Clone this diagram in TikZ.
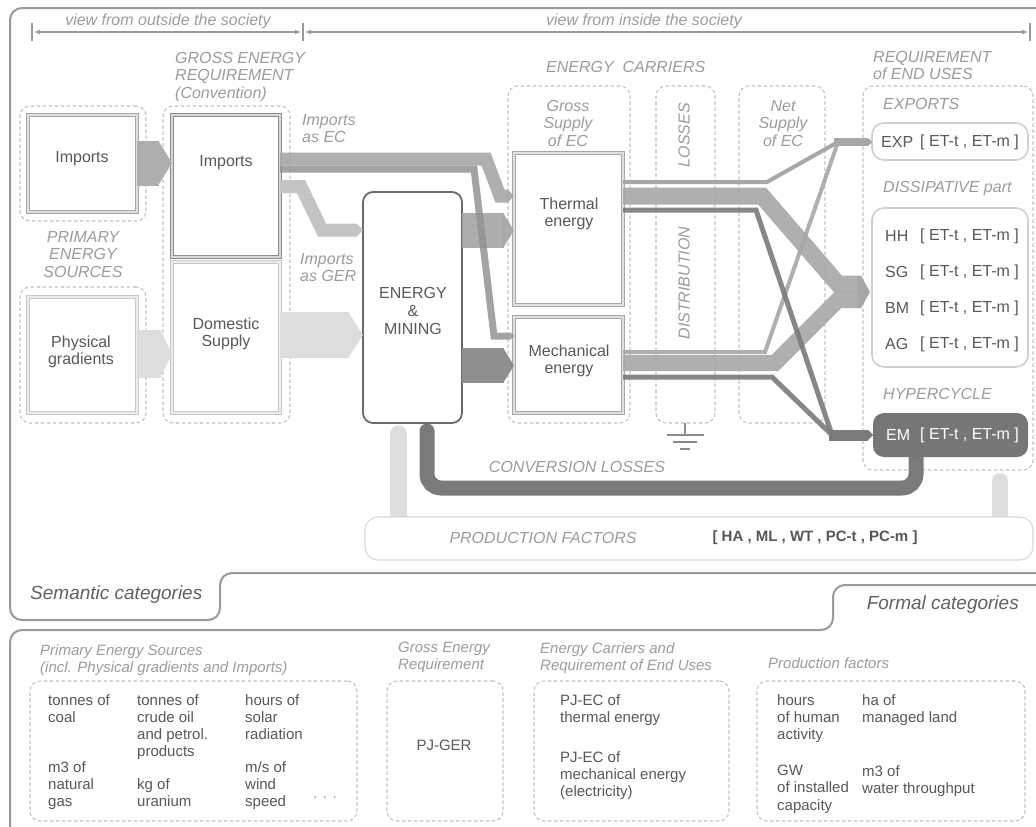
\documentclass[tikz,border=0pt]{standalone}
\usepackage{fontspec}
\setmainfont{Liberation Sans}
\usetikzlibrary{arrows.meta,calc}
\definecolor{cFrame}{HTML}{9A9A9A}
\definecolor{cDash}{HTML}{C2C2C2}
\definecolor{cLab}{HTML}{9C9C9C}
\definecolor{cTxt}{HTML}{585858}
\definecolor{cBoxA}{HTML}{A6A6A6}
\definecolor{cBoxD}{HTML}{8C8C8C}
\definecolor{cBoxL}{HTML}{C8C8C8}
\definecolor{cEMb}{HTML}{6A6A6A}
\definecolor{cEM}{HTML}{767676}
\definecolor{cRound}{HTML}{CFCFCF}
\definecolor{cPF}{HTML}{DADADA}
\definecolor{fMid}{HTML}{A7A7A7}
\definecolor{fLight}{HTML}{C4C4C4}
\definecolor{fPale}{HTML}{DDDDDD}
\definecolor{fDark}{HTML}{7A7A7A}
\definecolor{fMech}{HTML}{8F8F8F}
\newcommand\bodysize{\fontsize{16}{17.6}\selectfont}
\newcommand\listsize{\fontsize{15}{17.2}\selectfont}
\begin{document}
\begin{tikzpicture}[x=1pt,y=-1pt,
  frame/.style={draw=cFrame,line width=2pt,rounded corners=12pt},
  grp/.style={draw=cDash,line width=1.1pt,dash pattern=on 3.5pt off 2.5pt,rounded corners=10pt,anchor=north west,inner sep=0pt,outer sep=0pt},
  sbox/.style={anchor=north west,inner sep=0pt,outer sep=0pt,fill=white,line width=0.9pt,draw=#1,double=#1!35!white,double distance=1.4pt},
  rbox/.style={anchor=north west,inner sep=0pt,outer sep=0pt,fill=white,draw=cRound,line width=1.6pt,rounded corners=12pt},
  lab/.style={font=\bodysize\itshape,text=cLab,inner sep=0pt},
  txt/.style={font=\bodysize,text=cTxt,inner sep=0pt},
  lst/.style={font=\listsize,text=cTxt,inner sep=0pt,align=left,anchor=north west},
  blab/.style={font=\listsize\itshape,text=cLab,inner sep=0pt,align=left,anchor=north west},
  band/.style={line cap=butt,line join=miter},
  tipb/.style={-{Triangle[length=0pt 0.5,width=0pt 1]}},
  dim/.style={draw=cFrame,line width=1.3pt},
]
\useasboundingbox (0,0) rectangle (1036,827);
\clip (0,0) rectangle (1036,827);
\fill[white] (0,0) rectangle (1036,827);

% ---------- outer frames ----------
\draw[frame] (1050,8) -- (10,8) -- (10,620) -- (220,620) -- (220,573) -- (1050,573);
\draw[frame] (1050,585) -- (833,585) -- (833,630) -- (10,630) -- (10,850);
\node[font=\fontsize{19}{22}\selectfont\itshape,text=black!62,anchor=west,inner sep=0pt] (semcat) at (30,595) {Semantic categories};
\node[font=\fontsize{19}{22}\selectfont\itshape,text=black!62,anchor=east,inner sep=0pt] (formcat) at (1019,605) {Formal categories};

% ---------- dimension line on top ----------
\coordinate (d0) at (32,32); \coordinate (d1) at (303,32); \coordinate (d2) at (1030,32);
\draw[dim] ([yshift=9pt]d0) -- ([yshift=-9pt]d0);
\draw[dim] ([yshift=9pt]d1) -- ([yshift=-9pt]d1);
\draw[dim] ([yshift=9pt]d2) -- ([yshift=-9pt]d2);
\draw[dim,{Latex[length=6pt,width=5pt]}-{Latex[length=6pt,width=5pt]}] ([xshift=2pt]d0) -- ([xshift=-2pt]d1);
\draw[dim,{Latex[length=6pt,width=5pt]}-{Latex[length=6pt,width=5pt]}] ([xshift=2pt]d1) -- ([xshift=-2pt]d2);
\node[lab] (vout) at (168,21) {view from outside the society};
\node[lab] (vin) at (644,21) {view from inside the society};

% ---------- dashed groups ----------
\node[grp,minimum width=126pt,minimum height=115pt] (gPESi) at (20,106) {};
\node[grp,minimum width=126pt,minimum height=136pt] (gPESp) at (20,287) {};
\node[grp,minimum width=127pt,minimum height=317pt] (gGER) at (163,106) {};
\node[grp,minimum width=122pt,minimum height=337pt] (gEC) at (508,86) {};
\node[grp,minimum width=59pt,minimum height=337pt] (gLoss) at (656,86) {};
\node[grp,minimum width=86pt,minimum height=337pt] (gNet) at (739,86) {};
\node[grp,minimum width=170pt,minimum height=384pt] (gReq) at (863,86) {};

% ---------- group titles ----------
\node[lab,align=center,anchor=north] (tPES) at (83,231) {PRIMARY\\ENERGY\\SOURCES};
\node[lab,align=left,anchor=north west] (tGER) at (175,52) {GROSS ENERGY\\REQUIREMENT\\(Convention)};
\node[lab,align=left,anchor=north west] (tImpEC) at (302,114) {Imports\\as EC};
\node[lab,align=left,anchor=north west] (tImpGER) at (300,253) {Imports\\as GER};
\node[lab,anchor=west] (tEC) at (546,67) {ENERGY\ \ CARRIERS};
\node[lab,align=center,anchor=north] (tGross) at (568,100) {Gross\\Supply\\of EC};
\node[lab,align=center,anchor=north] (tNet) at (783,100) {Net\\Supply\\of EC};
\node[lab,rotate=90] (tLoss) at (684,135) {LOSSES};
\node[lab,rotate=90] (tDist) at (684,283) {DISTRIBUTION};
\node[lab,align=left,anchor=north west] (tReq) at (873,51) {REQUIREMENT\\of END USES};
\node[lab,anchor=west] (tExp) at (883,104) {EXPORTS};
\node[lab,anchor=west] (tDis) at (883,189) {DISSIPATIVE part};
\node[lab,anchor=west] (tHyp) at (883,394) {HYPERCYCLE};

% ---------- flows that pass under boxes ----------
\draw[fDark,line width=15pt,rounded corners=14pt,line cap=round] (916,450) -- (916,488) -- (427,488) -- (427,431);
\draw[fPale,line width=17pt,line cap=round] (398.5,520) -- (398.5,434);
\draw[fPale,line width=16pt,line cap=round] (1000,520) -- (1000,481);

% ---------- boxes ----------
\node[sbox=cBoxA,minimum width=109pt,minimum height=97pt] (pesImp) at (28,115) {};
\node[sbox=cBoxL,minimum width=109pt,minimum height=116pt] (pesPG) at (28,297) {};
\node[sbox=cBoxD,minimum width=108pt,minimum height=142pt] (gerImp) at (172,115) {};
\node[sbox=cBoxL,minimum width=108pt,minimum height=151pt] (gerDom) at (172,262) {};
\node[anchor=north west,inner sep=0pt,outer sep=0pt,fill=white,draw=cEMb,line width=1.8pt,rounded corners=10pt,minimum width=99pt,minimum height=231pt] (em) at (363,192) {};
\node[sbox=cBoxA,minimum width=109pt,minimum height=152pt] (th) at (514,153) {};
\node[sbox=cBoxA,minimum width=109pt,minimum height=96pt] (me) at (514,317) {};
\node[rbox,minimum width=156pt,minimum height=37pt] (exp) at (872,123) {};
\node[rbox,minimum width=156pt,minimum height=159pt] (dis) at (872,208) {};
\node[anchor=north west,inner sep=0pt,outer sep=0pt,fill=cEM,rounded corners=11pt,minimum width=155pt,minimum height=44pt] (emb) at (873,413) {};
\node[anchor=north west,inner sep=0pt,outer sep=0pt,fill=white,draw=cPF,line width=1.2pt,rounded corners=13pt,minimum width=668pt,minimum height=43pt] (pf) at (365,517) {};

% ---------- box texts ----------
\node[txt] (xImp1) at (82,159) {Imports};
\node[txt,align=center] (xPG) at (81,352) {Physical\\gradients};
\node[txt] (xImp2) at (226,163) {Imports};
\node[txt,align=center] (xDom) at (226,334) {Domestic\\Supply};
\node[txt,align=center] (xEM) at (413,311) {ENERGY\\\&\\MINING};
\node[txt,align=center] (xTh) at (569,214) {Thermal\\energy};
\node[txt,align=center] (xMe) at (569,361) {Mechanical\\energy};
\node[txt,anchor=west] (lEXP) at (881,142) {EXP};
\node[txt,anchor=west] (bEXP) at (920,142) {[ ET-t , ET-m ]};
\node[txt,anchor=west] (lHH) at (885,236) {HH};
\node[txt,anchor=west] (bHH) at (920,236) {[ ET-t , ET-m ]};
\node[txt,anchor=west] (lSG) at (885,272) {SG};
\node[txt,anchor=west] (bSG) at (920,272) {[ ET-t , ET-m ]};
\node[txt,anchor=west] (lBM) at (885,308) {BM};
\node[txt,anchor=west] (bBM) at (920,308) {[ ET-t , ET-m ]};
\node[txt,anchor=west] (lAG) at (885,344) {AG};
\node[txt,anchor=west] (bAG) at (920,344) {[ ET-t , ET-m ]};
\node[txt,anchor=west,text=white] (lEM) at (886,435) {EM};
\node[txt,anchor=west,text=white] (bEM) at (920,435) {[ ET-t , ET-m ]};
\node[lab] (tConv) at (577,467) {CONVERSION LOSSES};
\node[lab] (tPF) at (543,538) {PRODUCTION FACTORS};
\node[txt,font=\fontsize{15}{17}\selectfont\bfseries] (xPF) at (815,538) {[ HA , ML , WT , PC-t , PC-m ]};

% ---------- ground ----------
\coordinate (gnd) at (685,423);
\draw[cFrame!90!black,line width=1.5pt] (gnd) -- ++(0,12);
\draw[cFrame!90!black,line width=1.5pt] ($(gnd)+(-18,12)$) -- ++(37,0);
\draw[cFrame!90!black,line width=1.5pt] ($(gnd)+(-12,19)$) -- ++(24,0);
\draw[cFrame!90!black,line width=2.5pt] ($(gnd)+(-5,26)$) -- ++(10,0);

% ---------- chevron arrows between boxes ----------
\draw[fMid!92,line width=45pt,-{Triangle[length=14pt,width=0pt 1]}] ($(pesImp.north east)+(0,48)$) -- ($(gerImp.north west)+(0,48)$);
\draw[fPale,line width=48pt,-{Triangle[length=12pt,width=0pt 1]}] ($(pesPG.north east)+(0,57)$) -- ($(gerDom.north west)+(0,92)$);
\draw[fPale,line width=46pt,-{Triangle[length=15pt,width=0pt 1]}] ($(gerDom.north east)+(0,73)$) -- ($(em.north west)+(0,143)$);
\draw[fMid,opacity=0.92,line width=35pt,-{Triangle[length=11pt,width=0pt 1]}] ($(em.north east)+(0,38.5)$) -- ($(th.north west)+(0,77.5)$);
\draw[fMech,line width=35pt,-{Triangle[length=11pt,width=0pt 1]}] ($(em.north east)+(0,173.5)$) -- ($(me.north west)+(0,48.5)$);

% ---------- imports as energy carriers / as GER ----------
\draw[band,tipb,fLight,line width=13pt] ($(gerImp.north east)+(0,71.5)$) -- (301,186.5) -- (322,230) -- ($(em.north west)+(0,38)$);
\draw[band,tipb,fMid,opacity=0.9,line width=13pt] ($(gerImp.north east)+(0,44)$) -- (486,159) -- (500,196) -- ($(th.north west)+(0,43)$);
\draw[band,tipb,fMid!88!black,opacity=0.85,line width=7pt] ($(gerImp.north east)+(0,54)$) -- (474,169) -- (494,336) -- ($(me.north west)+(0,19)$);

% ---------- flows to end uses ----------
\draw[band,fMid,opacity=0.9,line width=17pt] ($(th.north east)+(0,43)$) -- (762,196) -- (838,284) -- (858,284);
\draw[band,fMid,opacity=0.9,line width=16pt] ($(me.north east)+(0,46)$) -- (775,363) -- (838,300) -- (858,300);
\fill[fMid] (857,275.5) -- (861,275.5) -- ($(dis.north west)+(-2,84)$) -- (861,308) -- (857,308) -- cycle;
\draw[band,fMid,line width=4pt] ($(th.north east)+(0,29)$) -- (767,182) -- (838,142);
\draw[band,fMid,opacity=0.9,line width=4pt] ($(me.north east)+(0,35)$) -- (765,352) -- (838,142);
\draw[band,tipb,fMid,line width=8pt] (834,142) -- ($(exp.west)+(0,0.5)$);
\draw[band,fDark,opacity=0.9,line width=5pt] ($(th.north east)+(0,57)$) -- (756,210) -- (832,435);
\draw[band,fDark,opacity=0.9,line width=5pt] ($(me.north east)+(0,60)$) -- (772,377) -- (832,435);
\draw[band,tipb,fDark,line width=11pt] (829,435) -- (emb.west);

% ---------- formal categories ----------
\node[blab] (fPES) at (40,644) {Primary Energy Sources\\(incl. Physical gradients and Imports)};
\node[blab] (fGER) at (398,642) {Gross Energy\\Requirement};
\node[blab] (fEC) at (540,642) {Energy Carriers and\\Requirement of End Uses};
\node[blab,anchor=west] (fPF) at (768,663) {Production factors};
\node[grp,minimum width=327pt,minimum height=140pt] (bPES) at (30,681) {};
\node[grp,minimum width=116pt,minimum height=140pt] (bGER) at (387,681) {};
\node[grp,minimum width=195pt,minimum height=140pt] (bEC) at (534,681) {};
\node[grp,minimum width=268pt,minimum height=140pt] (bPF) at (757,681) {};

\node[lst] (c1a) at (48,694) {tonnes of\\coal};
\node[lst] (c1b) at (48,761) {m3 of\\natural\\gas};
\node[lst] (c2a) at (137,694) {tonnes of\\crude oil\\and petrol.\\products};
\node[lst] (c2b) at (137,778) {kg of\\uranium};
\node[lst] (c3a) at (245,694) {hours of\\solar\\radiation};
\node[lst] (c3b) at (245,761) {m/s of\\wind\\speed};
\node[lst,text=cLab] (c3c) at (313,797) {. . .};
\node[txt,font=\listsize] (pjger) at (444,745) {PJ-GER};
\node[lst] (pjt) at (560,694) {PJ-EC of\\thermal energy};
\node[lst] (pjm) at (560,751) {PJ-EC of\\mechanical energy\\(electricity)};
\node[lst] (p1) at (777,694) {hours\\of human\\activity};
\node[lst] (p2) at (777,765) {GW\\of installed\\capacity};
\node[lst] (p3) at (862,694) {ha of\\managed land};
\node[lst] (p4) at (862,765) {m3 of\\water throughput};
\end{tikzpicture}
\end{document}
